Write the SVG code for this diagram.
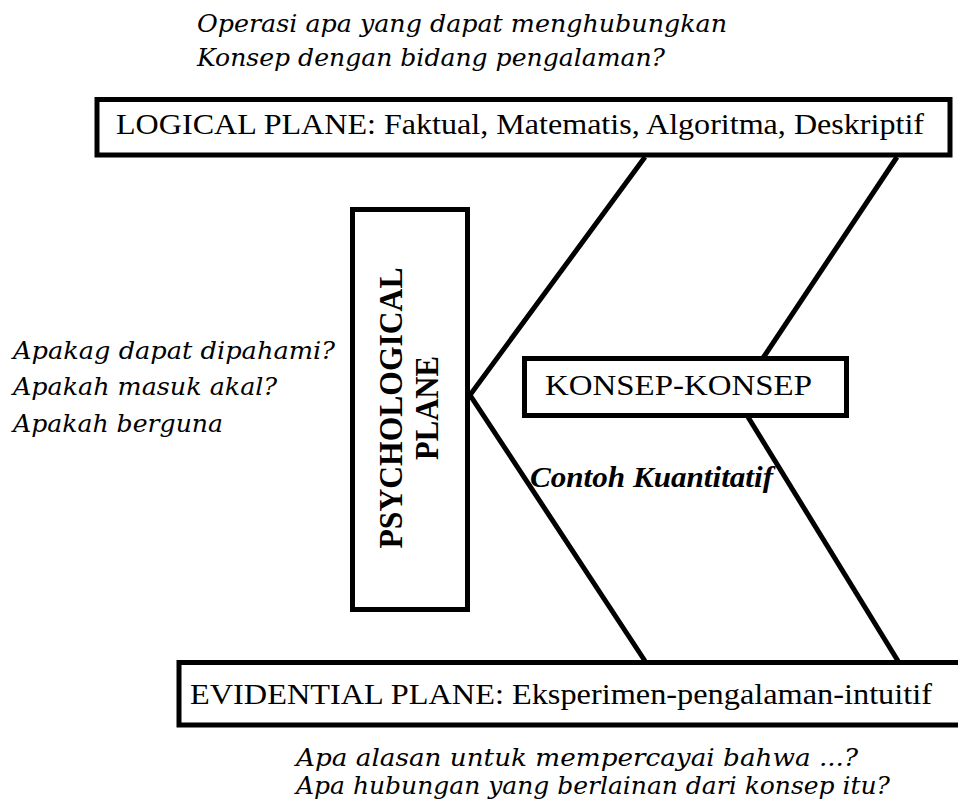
<svg xmlns="http://www.w3.org/2000/svg" width="958" height="811" viewBox="0 0 958 811">
<style>
.box{fill:#fff;stroke:#000;stroke-width:5}
.ln{fill:none;stroke:#000;stroke-width:5;stroke-linejoin:miter}
.up{font-family:"Liberation Serif","Times New Roman",serif;font-size:29px;fill:#000}
.q{font-family:"DejaVu Serif",serif;font-style:italic;font-size:25px;fill:#000}
.ps{font-family:"Liberation Serif","Times New Roman",serif;font-weight:bold;font-size:31px;fill:#000;text-anchor:middle}
</style>
<rect width="958" height="811" fill="#fff"/>
<g id="connectors">
<path class="ln" d="M645,157 L470,395 L645,661"/>
<path class="ln" d="M897,157 L763,358"/>
<path class="ln" d="M748,417 L898,661"/>
</g>
<g id="logical">
<rect class="box" x="97" y="99.5" width="853" height="55.5"/>
<text class="up" x="116" y="134" textLength="808" lengthAdjust="spacingAndGlyphs">LOGICAL PLANE: Faktual, Matematis, Algoritma, Deskriptif</text>
</g>
<g id="psychological">
<rect class="box" x="352.5" y="209.5" width="115" height="400"/>
<text class="ps" transform="translate(402,408) rotate(-90) scale(1,1.1)" textLength="281" lengthAdjust="spacingAndGlyphs">PSYCHOLOGICAL</text>
<text class="ps" transform="translate(438,408) rotate(-90) scale(1,1.1)" textLength="104" lengthAdjust="spacingAndGlyphs">PLANE</text>
</g>
<g id="konsep">
<rect class="box" x="524.5" y="358.5" width="322" height="57"/>
<text class="up" x="545" y="395" font-size="30" textLength="267" lengthAdjust="spacingAndGlyphs">KONSEP-KONSEP</text>
</g>
<g id="evidential">
<rect class="box" x="179" y="662.5" width="790" height="62.5"/>
<text class="up" x="190" y="704" textLength="742" lengthAdjust="spacingAndGlyphs">EVIDENTIAL PLANE: Eksperimen-pengalaman-intuitif</text>
</g>
<g id="contoh">
<text x="530" y="487" font-family="Liberation Serif, Times New Roman, serif" font-weight="bold" font-style="italic" font-size="30" textLength="243" lengthAdjust="spacingAndGlyphs">Contoh Kuantitatif</text>
</g>
<g id="question-top">
<text class="q" x="197" y="32" textLength="530" lengthAdjust="spacingAndGlyphs">Operasi apa yang dapat menghubungkan</text>
<text class="q" x="197" y="66" textLength="468" lengthAdjust="spacingAndGlyphs">Konsep dengan bidang pengalaman?</text>
</g>
<g id="question-left">
<text class="q" x="13" y="359" textLength="322" lengthAdjust="spacingAndGlyphs">Apakag dapat dipahami?</text>
<text class="q" x="13" y="395" textLength="264" lengthAdjust="spacingAndGlyphs">Apakah masuk akal?</text>
<text class="q" x="13" y="432" textLength="210" lengthAdjust="spacingAndGlyphs">Apakah berguna</text>
</g>
<g id="question-bottom">
<text class="q" x="296" y="766" textLength="562" lengthAdjust="spacingAndGlyphs">Apa alasan untuk mempercayai bahwa ...?</text>
<text class="q" x="296" y="794" textLength="594" lengthAdjust="spacingAndGlyphs">Apa hubungan yang berlainan dari konsep itu?</text>
</g>
</svg>
